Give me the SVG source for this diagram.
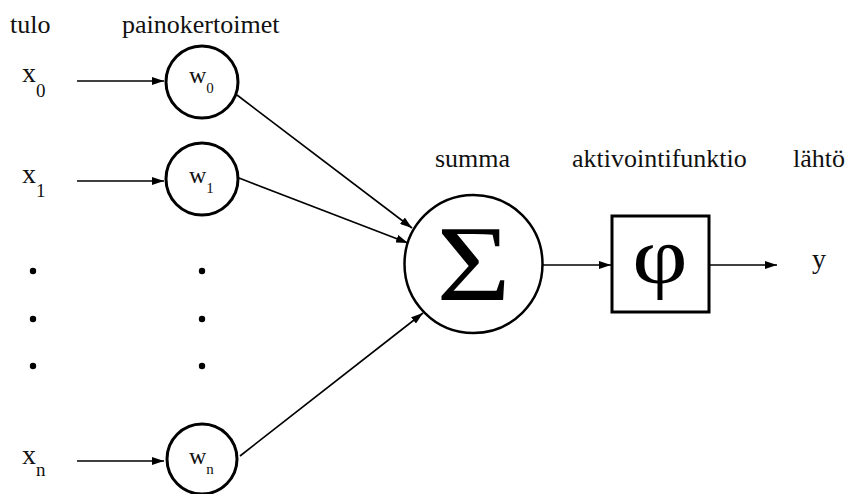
<svg xmlns="http://www.w3.org/2000/svg" width="851" height="494" viewBox="0 0 851 494">
  <style>
    .serif { font-family: "Times New Roman", Times, "Liberation Serif", "DejaVu Serif", "Noto Serif", FreeSerif, serif; fill: #111; }
    .hdr { font-size: 26px; }
    .inp { font-size: 28px; }
    .sub { font-size: 19px; }
    .wt { font-size: 24px; }
    .wsub { font-size: 15px; }
    .node { fill: #fff; stroke: #000; stroke-width: 3; }
    .sum { fill: #fff; stroke: #000; stroke-width: 2.5; }
    .edge { fill: none; stroke: #000; stroke-width: 1.6; }
    .dot { fill: #000; }
  </style>
  <defs>
    <marker id="arrow" viewBox="0 0 12 8" refX="12" refY="4" markerWidth="12" markerHeight="8" markerUnits="userSpaceOnUse" orient="auto">
      <path d="M0,0 L12,4 L0,8 Z" fill="#000"/>
    </marker>
  </defs>

  <!-- column headings -->
  <g id="headings" class="serif">
    <text class="hdr" x="10" y="33">tulo</text>
    <text class="hdr" x="122" y="33">painokertoimet</text>
    <text class="hdr" x="435" y="167">summa</text>
    <text class="hdr" x="572" y="167">aktivointifunktio</text>
    <text class="hdr" x="793" y="167">lähtö</text>
  </g>

  <!-- inputs -->
  <g id="x0" class="serif"><text class="inp" x="22" y="82">x<tspan class="sub" dy="15">0</tspan></text></g>
  <g id="x1" class="serif"><text class="inp" x="22" y="183">x<tspan class="sub" dy="14">1</tspan></text></g>
  <g id="xn" class="serif"><text class="inp" x="22" y="464">x<tspan class="sub" dy="12">n</tspan></text></g>

  <!-- connectors -->
  <g id="connectors">
    <line class="edge" x1="77" y1="81" x2="164" y2="81" marker-end="url(#arrow)"/>
    <line class="edge" x1="77" y1="181" x2="164" y2="181" marker-end="url(#arrow)"/>
    <line class="edge" x1="77" y1="461" x2="164" y2="461" marker-end="url(#arrow)"/>
    <line class="edge" x1="237" y1="95" x2="412" y2="228" marker-end="url(#arrow)"/>
    <line class="edge" x1="239" y1="178" x2="408" y2="243" marker-end="url(#arrow)"/>
    <line class="edge" x1="240" y1="456" x2="423" y2="313" marker-end="url(#arrow)"/>
    <line class="edge" x1="543" y1="265" x2="611" y2="265" marker-end="url(#arrow)"/>
    <line class="edge" x1="710" y1="265" x2="777" y2="265" marker-end="url(#arrow)"/>
  </g>

  <!-- weights -->
  <g id="w0" class="serif">
    <circle class="node" cx="202" cy="82" r="36"/>
    <text class="wt" x="189" y="83">w<tspan class="wsub" dy="10">0</tspan></text>
  </g>
  <g id="w1" class="serif">
    <circle class="node" cx="202" cy="179" r="36"/>
    <text class="wt" x="189" y="183">w<tspan class="wsub" dy="10">1</tspan></text>
  </g>
  <g id="wn" class="serif">
    <circle class="node" cx="202" cy="459" r="35"/>
    <text class="wt" x="189" y="464">w<tspan class="wsub" dy="10">n</tspan></text>
  </g>

  <!-- ellipsis dots -->
  <g id="dots">
    <circle class="dot" cx="33" cy="271" r="3.2"/>
    <circle class="dot" cx="33" cy="319" r="3.2"/>
    <circle class="dot" cx="33" cy="366" r="3.2"/>
    <circle class="dot" cx="202" cy="271" r="3.2"/>
    <circle class="dot" cx="202" cy="319" r="3.2"/>
    <circle class="dot" cx="202" cy="366" r="3.2"/>
  </g>

  <!-- summing junction -->
  <g id="summa" class="serif">
    <circle class="sum" cx="473.5" cy="264" r="69"/>
    <text transform="translate(473.5,300) scale(1.18,1)" text-anchor="middle" style="font-size:108px; fill:#000">Σ</text>
  </g>

  <!-- activation function -->
  <g id="aktivointi" class="serif">
    <rect class="node" x="612" y="216" width="97" height="96"/>
    <text transform="translate(660,283) scale(1.2,1)" text-anchor="middle" style="font-size:80px; fill:#000">φ</text>
  </g>

  <!-- output -->
  <g id="y" class="serif"><text class="inp" x="812" y="268">y</text></g>
</svg>
